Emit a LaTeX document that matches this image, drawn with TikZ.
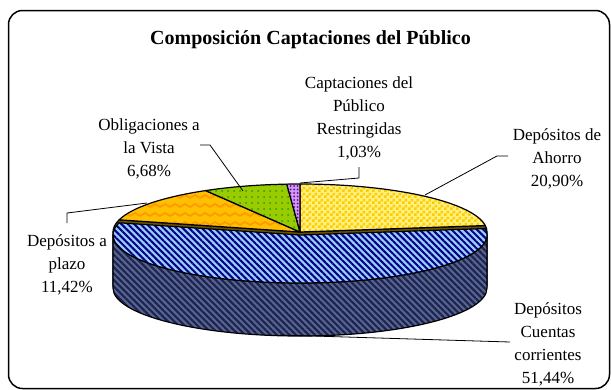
\documentclass[tikz,border=0pt]{standalone}
\usepackage{fontspec}
\setmainfont{Liberation Serif}
\usetikzlibrary{calc, positioning, patterns, patterns.meta}

\pgfdeclarepatternformonly{checks}{\pgfpointorigin}{\pgfpoint{6pt}{6pt}}{\pgfpoint{6pt}{6pt}}{
    \pgfpathrectangle{\pgfpointorigin}{\pgfpoint{3pt}{3pt}}
    \pgfpathrectangle{\pgfpoint{3pt}{3pt}}{\pgfpoint{3pt}{3pt}}
    \pgfusepath{fill}
}
\pgfdeclarepatternformonly{waves}{\pgfpoint{-1pt}{-1pt}}{\pgfpoint{11pt}{10pt}}{\pgfpoint{10pt}{9pt}}{
    \pgfsetlinewidth{1.8pt}
    \pgfpathmoveto{\pgfpoint{0pt}{2pt}}
    \pgfpathlineto{\pgfpoint{5pt}{5pt}}
    \pgfpathlineto{\pgfpoint{10pt}{2pt}}
    \pgfusepath{stroke}
}

\definecolor{ahorroLight}{HTML}{FFF080}
\definecolor{ahorroGold}{HTML}{FFCC00}
\definecolor{plazoBase}{HTML}{FFC000}
\definecolor{plazoWave}{HTML}{FF9900}
\definecolor{vistaBase}{HTML}{99CC00}
\definecolor{vistaDot}{HTML}{339900}
\definecolor{restrBase}{HTML}{CC99FF}
\definecolor{restrDot}{HTML}{800080}
\definecolor{cuentasTop}{HTML}{99CCFF}
\definecolor{cuentasLine}{HTML}{000080}
\definecolor{cuentasSide}{HTML}{5A6690}
\definecolor{cuentasDark}{HTML}{1C2452}
\definecolor{bodyDark}{HTML}{6B5200}

\tikzstyle{pie_edge}=[draw=black, line width=1.2pt, line join=round]
\tikzstyle{ahorro_slice}=[pie_edge, preaction={fill=ahorroLight}, pattern=checks, pattern color=ahorroGold]
\tikzstyle{plazo_slice}=[pie_edge, preaction={fill=plazoBase}, pattern=waves, pattern color=plazoWave]
\tikzstyle{vista_slice}=[pie_edge, preaction={fill=vistaBase}, pattern={Dots[distance=6pt, radius=1pt]}, pattern color=vistaDot]
\tikzstyle{restr_slice}=[pie_edge, preaction={fill=restrBase}, pattern={Dots[distance=3.5pt, radius=1pt]}, pattern color=restrDot]
\tikzstyle{cuentas_top}=[pie_edge, preaction={fill=cuentasTop}, pattern={Lines[angle=-45, distance=4.5pt, line width=2pt]}, pattern color=cuentasLine]
\tikzstyle{cuentas_side}=[pie_edge, preaction={fill=cuentasSide}, pattern={Lines[angle=-45, distance=4.5pt, line width=2.2pt]}, pattern color=cuentasDark]
\tikzstyle{back_side}=[pie_edge, fill=bodyDark]
\tikzstyle{leader}=[draw=black, line width=0.8pt]
\tikzstyle{pie_label}=[align=center, anchor=base, inner sep=0pt, font=\fontsize{17}{23}\selectfont]

\begin{document}
\begin{tikzpicture}[x=1pt, y=1pt]
    \useasboundingbox (0,0) rectangle (611,-389);
    \draw[line width=1.5pt, rounded corners=14pt] (8.5,-10.5) rectangle (609.5,-388.5);

    \node at (310.5,-44) (title) [anchor=base, inner sep=0pt, font=\fontsize{20}{24}\selectfont\bfseries] {Composición Captaciones del Público};

    \coordinate [] (pie) at (300,-232);
    \coordinate [] (pie-front) at (300,-235);

    % back part of the cake
    \draw[back_side] (pie) -- ++(7.74:187 and 48) arc[start angle=7.74, end angle=0, x radius=187, y radius=48]
        -- ++(0,-53) arc[start angle=0, end angle=-180, x radius=187, y radius=48]
        -- ++(0,53) arc[start angle=180, end angle=165.29, x radius=187, y radius=48] -- cycle;
    \foreach \sa/\ea/\sty in {90/7.74/ahorro_slice, 165.29/120.34/plazo_slice, 120.34/94.05/vista_slice, 94.05/90/restr_slice} {
        \draw[\sty] (pie) -- ++(\sa:187 and 48) arc[start angle=\sa, end angle=\ea, x radius=187, y radius=48] -- cycle;
    }

    % front slice, pulled out
    \draw[cuentas_side] (pie-front) ++(180:187 and 48) arc[start angle=180, end angle=360, x radius=187, y radius=48]
        -- ++(0,-53) arc[start angle=360, end angle=180, x radius=187, y radius=48] -- cycle;
    \draw[cuentas_top] (pie-front) -- ++(165.29:187 and 48) arc[start angle=165.29, end angle=367.74, x radius=187, y radius=48] -- cycle;

    % labels: base is the last line
    \node at (149,-176) (vista) [pie_label] {Obligaciones a\\la Vista\\6,68\%};
    \node at (359,-157) (restr) [pie_label] {Captaciones del\\Público\\Restringidas\\1,03\%};
    \node at (557,-186) (ahorro) [pie_label] {Depósitos de\\Ahorro\\20,90\%};
    \node at (67,-292) (plazo) [pie_label] {Depósitos a\\plazo\\11,42\%};
    \node at (548,-383) (cuentas) [pie_label] {Depósitos\\Cuentas\\corrientes\\51,44\%};

    \coordinate [] (vista-a) at (200,-145);
    \coordinate [] (vista-b) at (210,-145);
    \coordinate [] (vista-c) at (243,-191);
    \coordinate [] (restr-a) at (359,-167);
    \coordinate [] (restr-b) at (359,-178);
    \coordinate [] (restr-c) at (300,-183);
    \coordinate [] (ahorro-a) at (508,-156);
    \coordinate [] (ahorro-b) at (497,-156);
    \coordinate [] (ahorro-c) at (425,-195);
    \coordinate [] (plazo-a) at (67,-223);
    \coordinate [] (plazo-b) at (67,-213);
    \coordinate [] (plazo-c) at (147,-203);
    \coordinate [] (cuentas-a) at (510,-342);
    \coordinate [] (cuentas-c) at (280,-335);

    \draw[leader] (vista-a) -- (vista-b) -- (vista-c);
    \draw[leader] (restr-a) -- (restr-b) -- (restr-c);
    \draw[leader] (ahorro-a) -- (ahorro-b) -- (ahorro-c);
    \draw[leader] (plazo-a) -- (plazo-b) -- (plazo-c);
    \draw[leader] (cuentas-a) -- (cuentas-c);
\end{tikzpicture}
\end{document}
